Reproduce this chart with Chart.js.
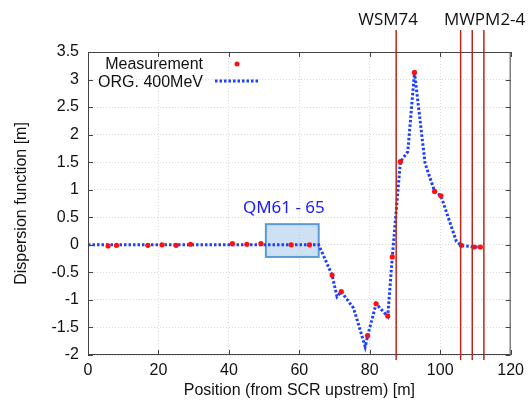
<!DOCTYPE html>
<html>
<head>
<meta charset="utf-8">
<script src="https://cdn.jsdelivr.net/npm/chart.js@4.4.0/dist/chart.umd.min.js"></script>
<style>
  html, body { margin: 0; padding: 0; background: #fff; }
  #wrap { width: 530px; height: 402px; }
</style>
</head>
<body>
<div id="wrap"><canvas id="dispChart"></canvas></div>
<script>
// measured dispersion (red points)
const measX = [5.7, 8.1, 17, 21, 25, 29.1, 41, 45.1, 49.1, 57.7, 62.9, 69.3, 71.9, 79.4, 81.8, 85.1, 86.4, 88.7, 92.7, 98.4, 100.2, 106, 109.6, 111.4];
const measY = [-0.02, -0.01, -0.01, 0, -0.01, 0.01, 0.02, 0.01, 0.02, 0, 0, -0.55, -0.85, -1.65, -1.07, -1.29, -0.22, 1.51, 3.13, 0.97, 0.89, -0.01, -0.04, -0.04];

// model, ORG. 400MeV (blue dotted)
const modelX = [0, 65.5, 69.3, 70.7, 71.9, 75.4, 78.7, 79.4, 81.8, 85.1, 86.4, 88.7, 90.8, 92.7, 95.7, 98.4, 100.2, 104.6, 106, 109.6, 111.6];
const modelY = [0, 0, -0.55, -0.94, -0.85, -1.15, -1.85, -1.65, -1.07, -1.3, -0.22, 1.51, 1.69, 3.13, 1.48, 0.97, 0.89, 0.06, -0.01, -0.04, -0.04];

// monitor positions (red vertical lines)
const monitorX = [87.5, 105.8, 109.1, 112.4];
const monitorLabels = ['WSM74', 'MWPM2-4'];
const monitorLabelX = [85.2, 112.6];

// quadrupole region
const boxX = [50.5, 65.5];
const boxY = [-0.22, 0.375];
const boxLabel = 'QM61 - 65';
const boxLabelX = 55.6;

const seriesNames = ['Measurement', 'ORG. 400MeV'];

const FONT = '"Liberation Sans", Arial, sans-serif';

const decor = {
    id: 'decor',
    beforeDatasetsDraw: (chart) => {
        const { ctx, scales: { x, y } } = chart;
        const l = x.getPixelForValue(boxX[0]), r = x.getPixelForValue(boxX[1]);
        const t = y.getPixelForValue(boxY[1]), b = y.getPixelForValue(boxY[0]);
        ctx.save();
        ctx.fillStyle = 'rgba(165, 200, 235, 0.55)';
        ctx.fillRect(l, t, r - l, b - t);
        ctx.strokeStyle = '#5b9bd5';
        ctx.lineWidth = 2;
        ctx.strokeRect(l, t, r - l, b - t);
        ctx.fillStyle = '#1a1aff';
        ctx.font = '17px "Noto Sans", sans-serif';
        ctx.textAlign = 'center';
        ctx.fillText(boxLabel, x.getPixelForValue(boxLabelX), t - 11);
        ctx.restore();
    },
    afterDatasetsDraw: (chart) => {
        const { ctx, chartArea: ca, scales: { x, y } } = chart;
        ctx.save();

        // frame + inward ticks (gnuplot style)
        ctx.strokeStyle = '#444';
        ctx.lineWidth = 1;
        ctx.strokeRect(ca.left + 0.5, ca.top + 0.5, ca.right - ca.left - 1, ca.bottom - ca.top - 1);
        ctx.beginPath();
        x.ticks.forEach(tk => {
            const px = Math.round(x.getPixelForValue(tk.value)) + 0.5;
            ctx.moveTo(px, ca.bottom); ctx.lineTo(px, ca.bottom - 5);
            ctx.moveTo(px, ca.top); ctx.lineTo(px, ca.top + 5);
        });
        y.ticks.forEach(tk => {
            const py = Math.round(y.getPixelForValue(tk.value)) + 0.5;
            ctx.moveTo(ca.left, py); ctx.lineTo(ca.left + 5, py);
            ctx.moveTo(ca.right, py); ctx.lineTo(ca.right - 5, py);
        });
        ctx.stroke();

        // monitor lines
        ctx.strokeStyle = '#b8281e';
        ctx.lineWidth = 1.5;
        ctx.beginPath();
        monitorX.forEach(v => {
            const px = x.getPixelForValue(v);
            ctx.moveTo(px, ca.top - 22);
            ctx.lineTo(px, ca.bottom + 5);
        });
        ctx.stroke();
        ctx.fillStyle = '#111';
        ctx.font = '17px "Open Sans", sans-serif';
        ctx.textAlign = 'center';
        monitorLabels.forEach((s, i) => ctx.fillText(s, x.getPixelForValue(monitorLabelX[i]), ca.top - 27));

        // legend
        ctx.font = '16px ' + FONT;
        ctx.textAlign = 'right';
        ctx.fillStyle = '#111';
        ctx.fillText(seriesNames[0], ca.left + 115, ca.top + 17);
        ctx.fillText(seriesNames[1], ca.left + 115, ca.top + 35);
        ctx.fillStyle = '#ff1010';
        ctx.beginPath();
        ctx.arc(ca.left + 149, ca.top + 12, 2.5, 0, Math.PI * 2);
        ctx.fill();
        ctx.strokeStyle = '#1f3fff';
        ctx.lineWidth = 3;
        ctx.setLineDash([2.5, 2]);
        ctx.beginPath();
        ctx.moveTo(ca.left + 127, ca.top + 29);
        ctx.lineTo(ca.left + 170, ca.top + 29);
        ctx.stroke();
        ctx.restore();
    }
};

const ctx = document.getElementById('dispChart').getContext('2d');
new Chart(ctx, {
    type: 'scatter',
    data: {
        datasets: [{
            label: seriesNames[1],
            data: modelX.map((v, i) => ({ x: v, y: modelY[i] })),
            showLine: true,
            borderColor: '#1f3fff',
            borderWidth: 3,
            borderDash: [2.5, 2],
            pointRadius: 0,
            tension: 0,
            order: 2
        }, {
            label: seriesNames[0],
            data: measX.map((v, i) => ({ x: v, y: measY[i] })),
            backgroundColor: '#ff1010',
            borderWidth: 0,
            pointRadius: 2.6,
            order: 1
        }]
    },
    options: {
        responsive: true,
        maintainAspectRatio: false,
        animation: false,
        layout: { padding: { top: 52, right: 16, left: 0, bottom: 0 } },
        scales: {
            x: {
                type: 'linear',
                min: 0,
                max: 120,
                afterFit: (s) => { s.height = 47; },
                ticks: { stepSize: 20, color: '#111', padding: 6, font: { family: FONT, size: 16 } },
                grid: { color: '#d8d8d8', drawTicks: false },
                border: { display: false, dash: [1, 2] },
                title: { display: true, text: 'Position (from SCR upstrem) [m]', color: '#111', font: { family: FONT, size: 16 }, padding: { top: 0, bottom: 2 } }
            },
            y: {
                min: -2,
                max: 3.5,
                afterFit: (s) => { s.width = 88; },
                ticks: { stepSize: 0.5, color: '#111', padding: 9, font: { family: FONT, size: 16 }, callback: (v) => String(v) },
                grid: { color: '#d8d8d8', drawTicks: false },
                border: { display: false, dash: [1, 2] },
                title: { display: true, text: 'Dispersion function [m]', color: '#111', font: { family: FONT, size: 16 }, padding: { top: 12, bottom: 0 } }
            }
        },
        plugins: {
            legend: { display: false },
            tooltip: { enabled: false }
        }
    },
    plugins: [decor]
});
</script>
</body>
</html>
